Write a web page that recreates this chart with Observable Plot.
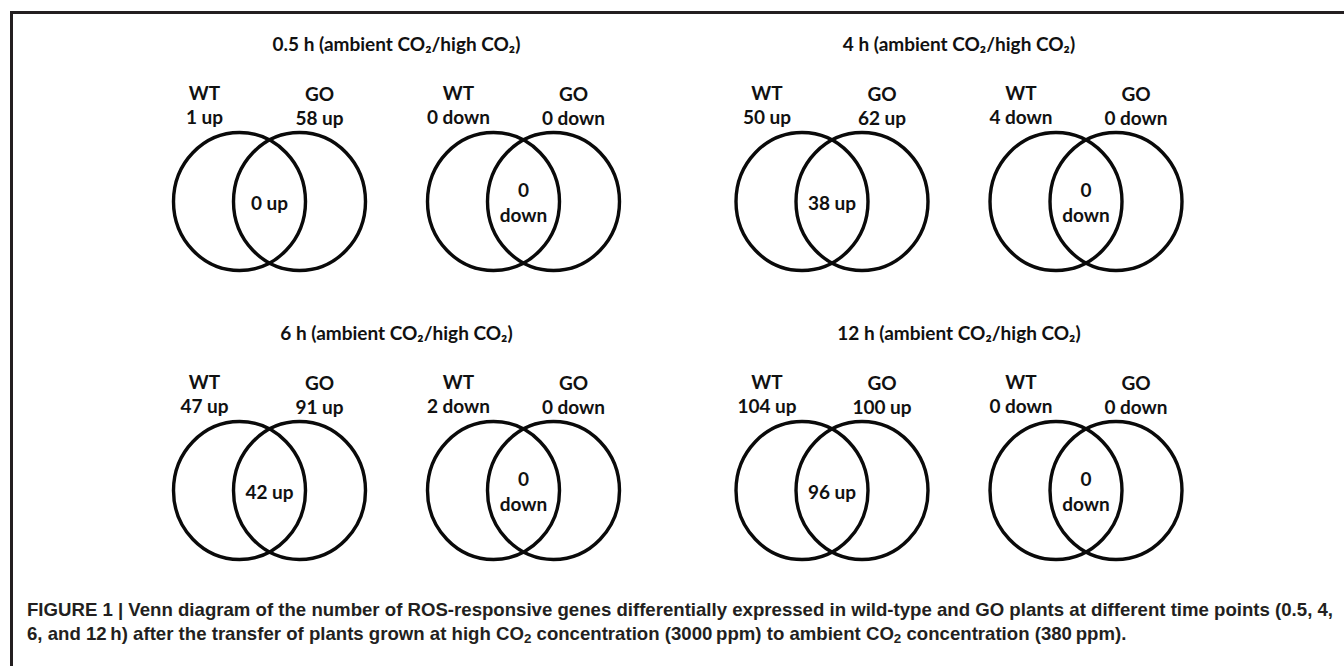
<!DOCTYPE html>
<html><head><meta charset="utf-8">
<script src="https://cdn.jsdelivr.net/npm/d3@7"></script>
<script src="https://cdn.jsdelivr.net/npm/@observablehq/plot@0.6"></script>
<style>
html,body{margin:0;padding:0;background:#fff;width:1344px;height:666px;overflow:hidden;position:relative;}
#frame{position:absolute;left:10px;top:11px;right:0;bottom:-10px;border-top:3px solid #231f20;border-left:3px solid #231f20;}
#chart{position:absolute;left:0;top:0;}
#caption{position:absolute;left:27px;top:598px;font-family:"Liberation Sans",Arial,sans-serif;font-weight:bold;font-size:18.5px;line-height:24px;color:#231f20;white-space:nowrap;transform-origin:0 0;}
#caption sub{font-size:0.72em;vertical-align:-0.25em;line-height:0;}
</style></head><body>
<div id="frame"></div>
<div id="chart"></div>
<div id="caption"><span id="l1">FIGURE 1 | Venn diagram of the number of ROS-responsive genes differentially expressed in wild-type and GO plants at different time points (0.5, 4,</span><br><span id="l2">6, and 12&thinsp;h) after the transfer of plants grown at high CO<sub>2</sub> concentration (3000&thinsp;ppm) to ambient CO<sub>2</sub> concentration (380&thinsp;ppm).</span></div>
<script>
// ---- data ----
const times = ["0.5 h", "4 h", "6 h", "12 h"];
const wtUp = [1, 50, 47, 104];
const goUp = [58, 62, 91, 100];
const sharedUp = [0, 38, 42, 96];
const wtDown = [0, 4, 2, 0];
const goDown = [0, 0, 0, 0];
const sharedDown = [0, 0, 0, 0];
const groups = ["WT", "GO"];
const titleSuffix = "(ambient CO\u2082/high CO\u2082)";

// ---- layout (venn slots) ----
const COL_STEP = 562.5 / 254;
const venns = [];
times.forEach((t, i) => {
  const col = i % 2, row = Math.floor(i / 2);
  [["up", wtUp, goUp, sharedUp], ["down", wtDown, goDown, sharedDown]].forEach(([dir, w, g, s], k) => {
    venns.push({time: t, dir, x: col * COL_STEP + k, row, wt: w[i], go: g[i], shared: s[i]});
  });
});
const panels = times.map((t, i) => ({title: `${t} ${titleSuffix}`, x: (i % 2) * COL_STEP + 0.5, row: Math.floor(i / 2)}));

// ellipse symbol
const ellipse = {
  draw(ctx, size) {
    const r = Math.sqrt(size / Math.PI), rx = r, ry = r * 69 / 66, k = 0.5522847498;
    ctx.moveTo(rx, 0);
    ctx.bezierCurveTo(rx, ry * k, rx * k, ry, 0, ry);
    ctx.bezierCurveTo(-rx * k, ry, -rx, ry * k, -rx, 0);
    ctx.bezierCurveTo(-rx, -ry * k, -rx * k, -ry, 0, -ry);
    ctx.bezierCurveTo(rx * k, -ry, rx, -ry * k, rx, 0);
    ctx.closePath();
  }
};

const font = {fontFamily: "Lato, 'Open Sans', sans-serif", fontSize: 19, fontWeight: "bold", fill: "#111"};
const circ = {x: "x", y: "row", r: 66, symbol: ellipse, fill: "none", stroke: "#0a0a0a", strokeWidth: 3.4};

const plot = Plot.plot({
  width: 1344, height: 590, margin: 0,
  x: {domain: [0, 1], range: [269, 523], axis: null},
  y: {domain: [0, 1], range: [201, 490], axis: null},
  style: {background: "transparent", overflow: "visible"},
  marks: [
    Plot.dot(venns, {...circ, dx: -30}),
    Plot.dot(venns, {...circ, dx: 30}),
    Plot.text(venns, {...font, x: "x", y: "row", dx: -65, dy: -97, lineHeight: 24 / 19,
      text: d => `${groups[0]}\n${d.wt} ${d.dir}`}),
    Plot.text(venns, {...font, x: "x", y: "row", dx: 50, dy: -96, lineHeight: 24 / 19,
      text: d => `${groups[1]}\n${d.go} ${d.dir}`}),
    Plot.text(venns, {...font, x: "x", y: "row", lineHeight: 25 / 19,
      text: d => d.dir === "up" ? `${d.shared} up` : `${d.shared}\ndown`}),
    Plot.text(panels, {...font, fontSize: 19, x: "x", y: "row", dy: -157, text: "title"})
  ]
});
document.getElementById("chart").appendChild(plot);

// fit caption line 1 to the reference width
function fitCaption() {
  const cap = document.getElementById("caption");
  cap.style.transform = "none";
  const w = document.getElementById("l1").getBoundingClientRect().width;
  cap.style.transform = `scaleX(${1306 / w})`;
}
fitCaption();
if (document.fonts && document.fonts.ready) document.fonts.ready.then(fitCaption);
</script>
</body></html>
